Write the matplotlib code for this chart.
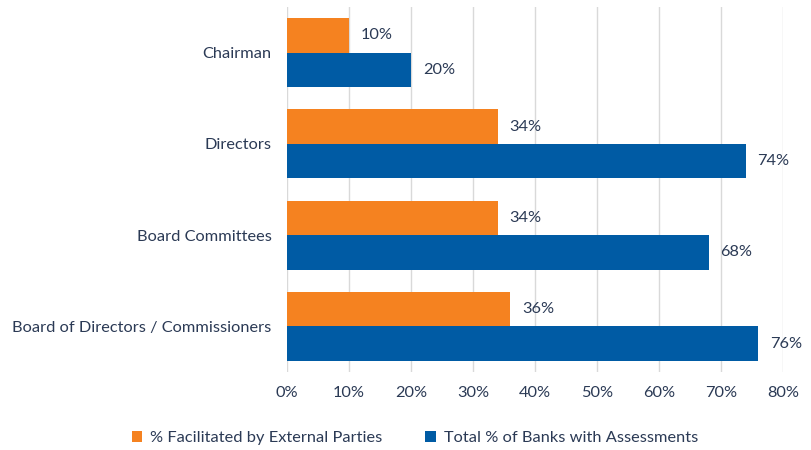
import matplotlib.pyplot as plt
import numpy as np

plt.rcParams["font.family"] = ["Lato", "DejaVu Sans"]

categories = ["Chairman", "Directors", "Board Committees", "Board of Directors / Commissioners"]
external = [10, 34, 34, 36]
total = [20, 74, 68, 76]
xticks = [0, 10, 20, 30, 40, 50, 60, 70, 80]

orange = "#F58220"
blue = "#005BA4"
text_color = "#2B3A55"
fs = 11.8

fig = plt.figure(figsize=(8.12, 4.5), dpi=100)
# axes placed in pixel terms of the reference
ax = fig.add_axes([287 / 812, 1 - 372 / 450, (783 - 287) / 812, (372 - 7) / 450])

y = np.arange(len(categories))
h = 0.378
ax.barh(y - h / 2, external, height=h, color=orange, label="% Facilitated by External Parties", zorder=3)
ax.barh(y + h / 2, total, height=h, color=blue, label="Total % of Banks with Assessments", zorder=3)

for yi, v in zip(y, external):
    ax.text(v + 1.9, yi - h / 2, f"{v}%", va="center", ha="left", fontsize=fs, color=text_color)
for yi, v in zip(y, total):
    ax.text(v + 1.9, yi + h / 2, f"{v}%", va="center", ha="left", fontsize=fs, color=text_color)

ax.set_xlim(0, 80)
ax.set_ylim(3.5, -0.5)
ax.set_xticks(xticks)
ax.set_xticklabels([f"{t}%" for t in xticks], fontsize=fs, color=text_color)
ax.set_yticks(y)
ax.set_yticklabels(categories, fontsize=fs, color=text_color)
ax.tick_params(axis="x", length=0, pad=10)
ax.tick_params(axis="y", length=0, pad=11)

ax.grid(True, axis="x", color="#D9D9D9", linewidth=1, zorder=0)
for spine in ax.spines.values():
    spine.set_visible(False)

fig.legend(
    loc="center",
    bbox_to_anchor=(415 / 812, 1 - 438 / 450),
    ncol=2,
    frameon=False,
    fontsize=fs,
    handlelength=0.65,
    handleheight=0.65,
    handletextpad=0.5,
    columnspacing=2.6,
    labelcolor=text_color,
)

plt.savefig("out.png", dpi=100)
